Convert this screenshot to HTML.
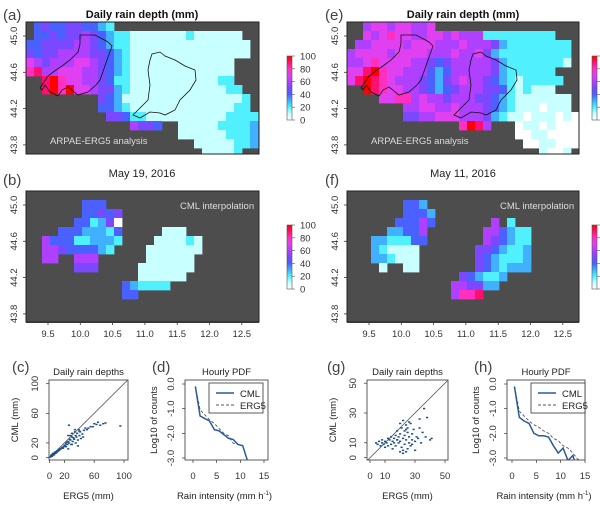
<!DOCTYPE html>
<html><head><meta charset="utf-8">
<style>
html,body{margin:0;padding:0;background:#fff;}
svg{display:block;font-family:"Liberation Sans",sans-serif;}
</style></head>
<body>
<svg id="fig" width="600" height="507" viewBox="0 0 600 507" xmlns="http://www.w3.org/2000/svg">
<defs>
<linearGradient id="cbar" x1="0" y1="1" x2="0" y2="0">
<stop offset="0" stop-color="#ffffff"/><stop offset="0.1" stop-color="#c8ffff"/><stop offset="0.2" stop-color="#50f0ff"/>
<stop offset="0.3" stop-color="#40b0ff"/><stop offset="0.4" stop-color="#4a60ff"/><stop offset="0.5" stop-color="#7a48ff"/>
<stop offset="0.6" stop-color="#b040ff"/><stop offset="0.7" stop-color="#e040f0"/><stop offset="0.8" stop-color="#ff30c0"/>
<stop offset="0.9" stop-color="#ff1070"/><stop offset="1" stop-color="#ff0000"/>
</linearGradient>
<clipPath id="clipA"><rect x="26" y="22" width="233" height="132"/></clipPath>
<clipPath id="clipB"><rect x="26" y="191" width="233" height="131"/></clipPath>
<clipPath id="clipE"><rect x="347" y="22" width="232" height="132"/></clipPath>
<clipPath id="clipF"><rect x="347" y="191" width="232" height="131"/></clipPath>
<clipPath id="clipC"><rect x="49" y="380" width="79" height="80"/></clipPath>
<clipPath id="clipG"><rect x="367" y="380" width="81" height="80"/></clipPath>
<clipPath id="clipD"><rect x="185" y="380" width="83" height="80"/></clipPath>
<clipPath id="clipH"><rect x="507" y="380" width="78" height="80"/></clipPath>
</defs>
</svg>
<script>
// ---------- data ----------
const mapA = [
".4544554432..................",
".44545565432211111112111111..",
"4455556654322111111111111111.",
"5455666655432111111111111111.",
"76566677654321111111111111...",
"89667776654321111111111111...",
"..9A8776654221111111111122...",
"..9A8A776553211111111111122..",
".........5431111111111111112.",
".........4432111111111111122.",
"..........5542211111111112222",
".............6554..1111122223",
"...................1111112223",
".....................11111223",
"......................11112.."
];
const mapB = [
".............................",
".......444...................",
".......44545.................",
"......442350.................",
"....44433324.....111.........",
"..6444223332....111121.......",
"..665444432....1111111.......",
"..66..666......111111........",
"......555.....1111111........",
"..............111111.........",
"............432222...........",
"............44..............."
];
const mapE = [
"..677677667..................",
"..767877667767666222222222...",
".667777677766676665322222222.",
"6777767777666766753222222222.",
"6678777766545666665322222221.",
"779A8776664346666653222222...",
"79A9876665435676654321222222..".slice(0,27)+"..",
"..A98776654345666554212111..".slice(0,27)+"..",
"....778867665666554321111111.",
".......667766766654321110111",
".......5566777666532110111010",
"..............8A96...01101000",
".....................00110000",
"......................0011000",
"........................1001."
];
const mapF = [
".............................",
".......443...................",
".......4443..................",
"......44464.......6.2........",
".....33446.......664322......",
"...3322244.......654322......",
"...321111.......5543223......",
"...332111.......5432223......",
"....1..11.......5432333......",
"..............543223.........",
".............665533..........",
".............6889............"
];
const mapCats = ["0","10","20","30","40","50","60","70","80","90","100"];
const cbTicks = [0,20,40,60,80,100];
const cmlX = [0.5,1.5,2.5,3.5,4.5,5.5,6.5,7.5,8.5,9.5,10.5,11.5];
const cmlD = [-0.1,-1.3,-1.4,-1.5,-1.85,-1.9,-2.05,-2.2,-2.25,-2.45,-2.5,-3.1];
const ergX = [0.5,1.5,2.5,3.5,4.5,5.5,6.5,7.5,8.5,9.5];
const ergD = [-0.1,-1.05,-1.25,-1.45,-1.6,-1.8,-2.0,-2.1,-2.4,-2.45];
const cmlXh = [0.5,1.5,2.5,3.5,4.5,5.5,6.5,7.5,8.5,9.5,10.5,11.5,12.5,13];
const cmlH = [-0.1,-1.35,-1.5,-1.6,-2.0,-2.1,-2.1,-2.15,-2.5,-2.8,-2.6,-3.1,-2.9,-3.2];
const ergXh = [0.5,1.5,2.5,3.5,4.5,5.5,6.5,7.5,8.5,9.5,10.5,11.5,12.5,13.5,14.5];
const ergH = [-0.1,-1.1,-1.3,-1.5,-1.65,-1.75,-1.9,-2.0,-2.2,-2.3,-2.5,-2.6,-2.8,-3.05,-3.1];
const scX_c = [1,2,2,3,3,4,4,5,5,6,6,7,7,8,8,9,10,10,11,12,12,13,14,15,16,17,18,19,20,21,22,22,23,24,25,25,26,27,28,28,29,30,30,31,32,33,34,35,35,36,37,38,39,40,41,42,44,45,46,48,50,52,55,58,60,63,65,68,72,75,95,26,30,34,38,25,40];
const scY_c = [1,2,3,2,4,3,5,4,6,5,4,6,7,6,8,7,9,8,9,10,11,10,12,12,13,14,13,15,17,16,15,19,21,18,22,30,20,25,24,30,18,28,33,22,27,25,35,20,30,28,33,24,38,30,35,26,32,28,37,40,38,40,42,42,46,45,48,44,46,47,43,44,18,38,16,12,36];
const scX_g = [4,5,6,7,8,8,9,10,10,11,12,12,13,14,14,15,15,16,16,17,17,18,18,19,19,20,20,20,21,21,22,22,22,23,23,23,24,24,24,25,25,25,26,26,27,27,28,28,29,30,30,31,32,33,34,35,36,38,40,41,20,22,24,26,18,28,33,37];
const scY_g = [10,9,11,8,10,12,9,11,7,10,13,8,12,9,14,11,6,13,10,15,8,12,18,10,14,4,16,11,20,7,13,25,5,18,9,15,22,4,12,17,6,20,14,10,23,8,16,12,19,11,5,14,13,26,10,17,33,27,12,13,23,3,19,24,12,9,20,14];
const lonTicks = ["9.5","10.0","10.5","11.0","11.5","12.0","12.5"];
const latTicks = ["45.0","44.6","44.2","43.8"];

// ---------- helpers ----------
const NS="http://www.w3.org/2000/svg";
const svg=document.getElementById('fig');
function mk(tag,attrs,parent){const e=document.createElementNS(NS,tag);for(const k in attrs)e.setAttribute(k,attrs[k]);(parent||svg).appendChild(e);return e;}
function txt(x,y,s,attrs){const e=mk('text',Object.assign({x:x,y:y},attrs||{}));e.textContent=s;return e;}
const stops=["#ffffff","#c8ffff","#50f0ff","#40b0ff","#4a60ff","#7a48ff","#b040ff","#e040f0","#ff30c0","#ff1070","#ff0000"];
function colorOf(ch){const v=ch==="A"?10:parseInt(ch,10);return stops[v];}
function valueOf(ch){return ch==="A"?100:parseInt(ch,10)*10;}

function drawMap(rows,x0,y0,clip,name){
  mk('rect',{x:x0,y:y0,width:(name.includes('e')||name.includes('f'))?232:233,height:132,fill:'#4d4d4d'});
  const g=mk('g',{'clip-path':'url(#'+clip+')'});
  
  
  rows.forEach((row,r)=>{for(let c=0;c<row.length;c++){const ch=row[c];if(ch==='.')continue;
    const cell=mk('rect',{x:x0+c*8,y:y0+r*9,width:8.4,height:9.4,fill:colorOf(ch),'data-value':valueOf(ch)},g);
    
    
  }});
  return g;
}
function mapFrame(x0,y0,w,h,name,showX){
  const f=mk('rect',{x:x0,y:y0,width:w,height:h,fill:'none',stroke:'#222','stroke-width':1});
  
  
  latTicks.forEach((t,i)=>{const y=y0+14+i*36.3;
    mk('line',{x1:x0-3,x2:x0,y1:y,y2:y,stroke:'#333','stroke-width':0.8});
    const tt=txt(x0-9,y,t,{'font-size':9.5,fill:'#333','text-anchor':'middle',transform:'rotate(-90 '+(x0-9)+' '+y+')'});
    
    
  });
  if(showX){lonTicks.forEach((t,i)=>{const x=x0+22+i*32.3;
    mk('line',{x1:x,x2:x,y1:y0+h,y2:y0+h+3,stroke:'#333','stroke-width':0.8});
    const tt=txt(x,y0+h+15,t,{'font-size':9.5,fill:'#333','text-anchor':'middle'});
    
    
  });}
}
function colorbar(x,y,name,labels){
  const r=mk('rect',{x:x,y:y,width:5,height:64,fill:'url(#cbar)',stroke:'#555','stroke-width':0.6});
  
  
  cbTicks.forEach(v=>{const yy=y+64-v/100*64;
    mk('line',{x1:x+5,x2:x+8,y1:yy,y2:yy,stroke:'#555','stroke-width':0.6});
    if(labels){const t=txt(x+13,yy+3.5,String(v),{'font-size':9.5,fill:'#333'});
      
      }
  });
}
const leftPoly=[[80,35],[95,35],[108,42],[112,46],[107,60],[100,80],[96,85],[88,92],[78,95],[68,87],[62,90],[58,96],[50,92],[45,85],[42,90],[40,88],[48,76],[56,70],[62,66],[70,60],[78,52],[80,44]];
const rightPoly=[[152,54],[160,52],[165,56],[175,60],[185,66],[195,70],[196,80],[190,90],[180,100],[175,110],[165,115],[160,113],[150,112],[140,118],[133,115],[140,108],[148,100],[150,85],[148,70],[150,60]];
function outlines(dx,name){
  [leftPoly,rightPoly].forEach((p,i)=>{const pl=mk('polygon',{points:p.map(q=>(q[0]+dx)+','+q[1]).join(' '),fill:'none',stroke:'#111','stroke-width':0.8});
    
    });
}
function label(x,y,s,name,attrs){const t=txt(x,y,s,attrs);return t;}

// ---------- maps ----------
drawMap(mapA,26,22,'clipA','map-a');
outlines(0,'map-a');
mapFrame(26,22,233,132,'map-a',false);
label(50,144,'ARPAE-ERG5 analysis','map-a-note',{'font-size':9.5,fill:'#ddd'});
drawMap(mapB,26,191,'clipB','map-b');
mapFrame(26,191,233,131,'map-b',true);
label(180,209,'CML interpolation','map-b-note',{'font-size':9.5,fill:'#ddd'});
drawMap(mapE,347,22,'clipE','map-e');
outlines(321,'map-e');
mapFrame(347,22,232,132,'map-e',false);
label(371,144,'ARPAE-ERG5 analysis','map-e-note',{'font-size':9.5,fill:'#ddd'});
drawMap(mapF,347,191,'clipF','map-f');
mapFrame(347,191,232,131,'map-f',true);
label(500,209,'CML interpolation','map-f-note',{'font-size':9.5,fill:'#ddd'});

colorbar(287,56,'colorbar-a',true);
colorbar(287,225,'colorbar-b',true);
colorbar(592,56,'colorbar-e',false);
colorbar(592,225,'colorbar-f',false);

label(142,18,'Daily rain depth (mm)','title-a',{'font-size':11,'font-weight':'bold','text-anchor':'middle',fill:'#111'});
label(463,18,'Daily rain depth (mm)','title-e',{'font-size':11,'font-weight':'bold','text-anchor':'middle',fill:'#111'});
label(142,177,'May 19, 2016','date-left',{'font-size':11,'text-anchor':'middle',fill:'#222'});
label(463,177,'May 11, 2016','date-right',{'font-size':11,'text-anchor':'middle',fill:'#222'});
[['(a)',3,20],['(b)',3,185],['(e)',325,20],['(f)',325,185],['(c)',12,372],['(d)',152,372],['(g)',327,372],['(h)',474,372]].forEach(a=>{
  label(a[1],a[2],a[0],'panel-letter-'+a[0][1],{'font-size':15,fill:'#444'});
});

// ---------- scatter ----------
function scatter(xs,ys,box,sx,sy,xt,yt,clip,name){
  const [bx,by,bw,bh]=box;
  const fr=mk('rect',{x:bx,y:by,width:bw,height:bh,fill:'none',stroke:'#333','stroke-width':0.8});
  
  
  const g=mk('g',{'clip-path':'url(#'+clip+')'});
  mk('line',{x1:sx(-10),y1:sy(-10),x2:sx(200),y2:sy(200),stroke:'#555','stroke-width':0.8},g);
  xs.forEach((v,i)=>{const p=mk('rect',{x:sx(v)-1,y:sy(ys[i])-0.7,width:2.2,height:1.5,fill:'#1f4e8c'},g);
    
    });
  xt.forEach(v=>{mk('line',{x1:sx(v),x2:sx(v),y1:by+bh,y2:by+bh+3,stroke:'#333','stroke-width':0.7});
    label(sx(v),by+bh+19,String(v),'x-tick-label',{'font-size':9.5,'text-anchor':'middle',fill:'#333'});});
  yt.forEach(v=>{mk('line',{x1:bx-3,x2:bx,y1:sy(v),y2:sy(v),stroke:'#333','stroke-width':0.7});
    const X=bx-11;label(X,sy(v),String(v),'y-tick-label',{'font-size':9.5,'text-anchor':'middle',fill:'#333',transform:'rotate(-90 '+X+' '+sy(v)+')'});});
  label(bx+bw/2,by-5,'Daily rain depths','scatter-title',{'font-size':9.5,'text-anchor':'middle',fill:'#222'});
  label(bx+bw/2,499,'ERG5 (mm)','x-axis-title',{'font-size':9.5,'text-anchor':'middle',fill:'#222'});
  const Y=bx-31,Yc=by+bh/2;label(Y,Yc,'CML (mm)','y-axis-title',{'font-size':9.5,'text-anchor':'middle',fill:'#222',transform:'rotate(-90 '+Y+' '+Yc+')'});
}
scatter(scX_c,scY_c,[49,380,79,80],v=>49.5+v*0.745,v=>457.7-v*0.74,[0,20,60,100],[0,20,60,100],'clipC','scatter-c');
scatter(scX_g,scY_g,[367,380,81,80],v=>370+v*1.5,v=>457.7-v*1.49,[0,10,30,50],[0,10,30,50],'clipG','scatter-g');

// ---------- PDF ----------
function pdf(cx,cy,ex,ey,box,sx,name,clip,legX){
  const [bx,by,bw,bh]=box;const sy=v=>384-v*24.67;
  const fr=mk('rect',{x:bx,y:by,width:bw,height:bh,fill:'none',stroke:'#333','stroke-width':0.8});
  
  
  const g=mk('g',{'clip-path':'url(#'+clip+')'});
  const e=mk('polyline',{points:ex.map((v,i)=>sx(v)+','+sy(ey[i])).join(' '),fill:'none',stroke:'#555','stroke-width':0.9,'stroke-dasharray':'3,2'},g);
  
  
  const c=mk('polyline',{points:cx.map((v,i)=>sx(v)+','+sy(cy[i])).join(' '),fill:'none',stroke:'#2a5a9a','stroke-width':1.5},g);
  
  
  [0,5,10,15].forEach(v=>{mk('line',{x1:sx(v),x2:sx(v),y1:by+bh,y2:by+bh+3,stroke:'#333','stroke-width':0.7});
    label(sx(v),by+bh+19,String(v),'x-tick-label',{'font-size':9.5,'text-anchor':'middle',fill:'#333'});});
  ['0.0','-1.0','-2.0','-3.0'].forEach(s=>{const yy=sy(parseFloat(s));mk('line',{x1:bx-3,x2:bx,y1:yy,y2:yy,stroke:'#333','stroke-width':0.7});
    const X=bx-11;label(X,yy,s,'y-tick-label',{'font-size':9.5,'text-anchor':'middle',fill:'#333',transform:'rotate(-90 '+X+' '+yy+')'});});
  const lb=mk('rect',{x:legX,y:383,width:54,height:30,fill:'#fff',stroke:'#333','stroke-width':0.8});
  
  
  mk('line',{x1:legX+7,x2:legX+25,y1:393,y2:393,stroke:'#2a5a9a','stroke-width':1.5});
  mk('line',{x1:legX+7,x2:legX+25,y1:405,y2:405,stroke:'#555','stroke-width':0.9,'stroke-dasharray':'3,2'});
  label(legX+31,397,'CML','legend-entry-cml',{'font-size':9.5,fill:'#222'});
  label(legX+31,409,'ERG5','legend-entry-erg5',{'font-size':9.5,fill:'#222'});
  label(bx+bw/2,by-5,'Hourly PDF','pdf-title',{'font-size':9.5,'text-anchor':'middle',fill:'#222'});
  const t=label(bx+bw/2-2,499,'Rain intensity (mm h','x-axis-title',{'font-size':9.5,'text-anchor':'middle',fill:'#222'});
  const sp=mk('tspan',{'font-size':6,dy:-4},t);sp.textContent='-1';
  const sp2=mk('tspan',{dy:4},t);sp2.textContent=')';
  const Y=bx-28,Yc=by+bh/2;label(Y,Yc,'Log10 of counts','y-axis-title',{'font-size':9.5,'text-anchor':'middle',fill:'#222',transform:'rotate(-90 '+Y+' '+Yc+')'});
}
pdf(cmlX,cmlD,ergX,ergD,[185,380,83,80],v=>193+v*4.733,'pdf-d','clipD',209);
pdf(cmlXh,cmlH,ergXh,ergH,[507,380,78,80],v=>512+v*4.867,'pdf-h','clipH',531);
</script>
</body></html>
